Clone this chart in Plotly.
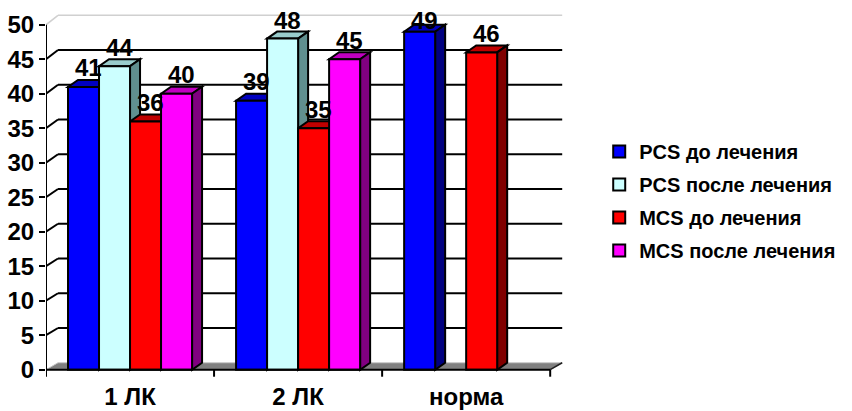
import plotly.graph_objects as go

# ---- data ----
categories = ["1 ЛК", "2 ЛК", "норма"]
series_names = ["PCS до лечения", "PCS после лечения", "MCS до лечения", "MCS после лечения"]
pcs_before = [41, 39, 49]
pcs_after = [44, 48, None]
mcs_before = [36, 35, 46]
mcs_after = [40, 45, None]
y_tick_values = [0, 5, 10, 15, 20, 25, 30, 35, 40, 45, 50]

series_values = [pcs_before, pcs_after, mcs_before, mcs_after]

# ---- styling ----
front_colors = ["#0000FF", "#CCFFFF", "#FF0000", "#FF00FF"]
top_colors = ["#0000C0", "#99CCCC", "#C00000", "#C000C0"]
side_colors = ["#000080", "#608F8F", "#800000", "#800080"]
FONT = "Liberation Sans, Arial, sans-serif"
LABEL_SIZE = 24
LEGEND_SIZE = 20

# ---- geometry (pixels -> data units) ----
W, H = 852, 411
LEFT = 46
CAT_PX = 168.0
UNIT_PX = 6.91
ZERO_PX = 370.0
X_MIN, X_MAX = -0.5, 2.6
Y_MIN, Y_MAX = -1.2, 52.0
plot_w = (X_MAX - X_MIN) * CAT_PX
margin_t = ZERO_PX - Y_MAX * UNIT_PX
margin_b = H - (ZERO_PX - Y_MIN * UNIT_PX)
margin_r = W - LEFT - plot_w

N = len(series_values)
BAR_W = 31.0 / CAT_PX
GROUP_W = BAR_W * N
BAR_DX = 10.0 / CAT_PX
BAR_DY = 7.0 / UNIT_PX
WALL_DX = 12.0 / CAT_PX
TICK_DOWN = 7.0 / UNIT_PX
LABEL_LIFT = 19      # px between a bar's front top and its value label centre
LABEL_MIN_Y = 20     # keep value labels inside the figure


def wall_y(v):
    # height on the back wall for value v
    return (7.0 + v * 6.96) / UNIT_PX


def bar_center(i, j):
    return i - GROUP_W / 2 + (j + 0.5) * BAR_W


def path(points):
    return "M" + " L".join(f"{x:.5f},{y:.5f}" for x, y in points) + " Z"


fig = go.Figure()
shapes = []
annotations = []

# floor
x0, x1 = -0.5, len(categories) - 0.5
shapes.append(dict(type="path", xref="x", yref="y", layer="below",
                   path=path([(x0, 0), (x1, 0), (x1 + WALL_DX, wall_y(0)), (x0 + WALL_DX, wall_y(0))]),
                   fillcolor="#808080", line=dict(color="#C8C8C8", width=1)))
shapes.append(dict(type="line", xref="x", yref="y", layer="below",
                   x0=x1, y0=0, x1=x1 + WALL_DX, y1=wall_y(0),
                   line=dict(color="#202020", width=1.5)))

# back-wall gridlines and side-wall edges
for v in y_tick_values[1:]:
    top = v == y_tick_values[-1]
    col = "#D0D0D0" if top else "black"
    wid = 1.5 if top else 2
    shapes.append(dict(type="line", xref="x", yref="y", layer="below",
                       x0=x0 + WALL_DX, y0=wall_y(v), x1=x1 + WALL_DX, y1=wall_y(v),
                       line=dict(color=col, width=wid)))
    shapes.append(dict(type="line", xref="x", yref="y", layer="below",
                       x0=x0, y0=v, x1=x0 + WALL_DX, y1=wall_y(v),
                       line=dict(color=col, width=wid)))

# bar fronts (traces) plus top and side faces (shapes under the traces)
for j, (name, vals) in enumerate(zip(series_names, series_values)):
    xs = [bar_center(i, j) for i, v in enumerate(vals) if v is not None]
    ys = [v for v in vals if v is not None]
    fig.add_trace(go.Bar(
        x=xs, y=ys, width=BAR_W, name=name, legendgroup=name,
        marker=dict(color=front_colors[j], line=dict(color="black", width=2)),
        hoverinfo="skip",
    ))

for i in range(len(categories)):
    for j, vals in enumerate(series_values):
        v = vals[i]
        if v is None:
            continue
        xc = bar_center(i, j)
        xl, xr = xc - BAR_W / 2, xc + BAR_W / 2
        shapes.append(dict(type="path", xref="x", yref="y", layer="below",
                           path=path([(xl, v), (xr, v), (xr + BAR_DX, v + BAR_DY), (xl + BAR_DX, v + BAR_DY)]),
                           fillcolor=top_colors[j], line=dict(color="black", width=2)))
        shapes.append(dict(type="path", xref="x", yref="y", layer="below",
                           path=path([(xr, 0), (xr, v), (xr + BAR_DX, v + BAR_DY), (xr + BAR_DX, BAR_DY)]),
                           fillcolor=side_colors[j], line=dict(color="black", width=2)))
        top_px = ZERO_PX - v * UNIT_PX
        lift = min(LABEL_LIFT, top_px - LABEL_MIN_Y)
        annotations.append(dict(x=xc + BAR_DX / 2, y=v, xref="x", yref="y",
                                text=str(v), showarrow=False, yanchor="middle", yshift=lift,
                                font=dict(family=FONT, size=LABEL_SIZE, color="black", weight="bold")))

# front axis lines and category separators
shapes.append(dict(type="line", xref="x", yref="y", layer="above",
                   x0=x0, y0=-TICK_DOWN, x1=x0, y1=y_tick_values[-1],
                   line=dict(color="black", width=2)))
shapes.append(dict(type="line", xref="x", yref="y", layer="above",
                   x0=x0, y0=0, x1=x1, y1=0, line=dict(color="black", width=2)))
for k in range(1, len(categories) + 1):
    xb = x0 + k
    shapes.append(dict(type="line", xref="x", yref="y", layer="above",
                       x0=xb, y0=0, x1=xb, y1=-TICK_DOWN, line=dict(color="black", width=2)))

fig.update_layout(
    width=W, height=H,
    margin=dict(l=LEFT, r=margin_r, t=margin_t, b=margin_b, pad=0, autoexpand=False),
    paper_bgcolor="white", plot_bgcolor="white",
    font=dict(family=FONT, color="black", weight="bold"),
    barmode="overlay",
    shapes=shapes,
    annotations=annotations,
    showlegend=True,
    legend=dict(x=(599 - LEFT) / plot_w, y=1 - (132 - margin_t) / (H - margin_t - margin_b),
                xanchor="left", yanchor="top", tracegroupgap=4,
                font=dict(family=FONT, size=LEGEND_SIZE, color="black", weight="bold"),
                bgcolor="rgba(0,0,0,0)", itemclick=False, itemdoubleclick=False),
    xaxis=dict(range=[X_MIN, X_MAX], tickvals=list(range(len(categories))), ticktext=categories,
               showgrid=False, zeroline=False, showline=False, ticks="", ticklabelstandoff=2,
               automargin=False,
               tickfont=dict(family=FONT, size=LABEL_SIZE, color="black", weight="bold"), fixedrange=True),
    yaxis=dict(range=[Y_MIN, Y_MAX], tickvals=y_tick_values, showgrid=False, zeroline=False,
               showline=False, ticks="outside", ticklen=6, tickwidth=2, tickcolor="black",
               automargin=False,
               tickfont=dict(family=FONT, size=LABEL_SIZE, color="black", weight="bold"), fixedrange=True),
)

fig.write_html("out.html", config={"displayModeBar": False})
